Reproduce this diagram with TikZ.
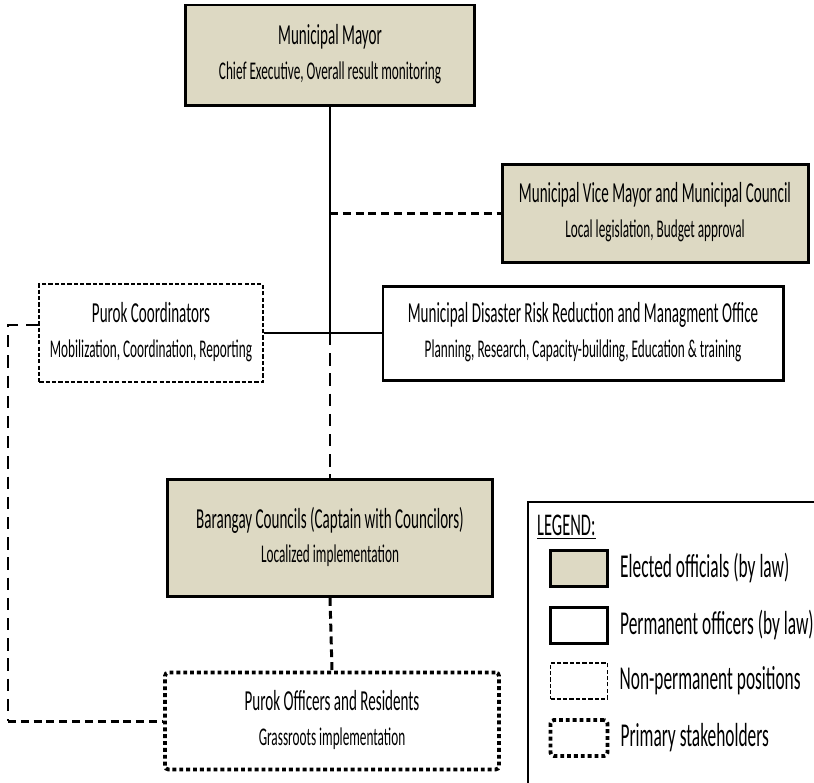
\documentclass[tikz,border=0pt]{standalone}
\usepackage{fontspec}
\setmainfont{Carlito}[FakeStretch=0.52]
\usepackage{tikz}
\usetikzlibrary{positioning, calc}

\definecolor{electedtan}{RGB}{221,217,195}
\newcommand{\ttl}{\fontsize{16.5}{19}\selectfont}
\newcommand{\sbt}{\fontsize{14.5}{17}\selectfont}
\newcommand{\lgd}{\fontsize{19}{22}\selectfont}

\tikzset{
	elected/.style={draw, line width=1.7pt, fill=electedtan, inner sep=0pt},
	permanent/.style={draw, line width=1.7pt, fill=white, inner sep=0pt},
	nonpermanent/.style={draw, line width=1.1pt, dash pattern=on 2.4pt off 1.2pt, fill=white, inner sep=0pt},
	primary/.style={draw, line width=2.2pt, dash pattern=on 2.2pt off 1.7pt, rounded corners=2pt, fill=white, inner sep=0pt},
	solidlink/.style={line width=1.2pt},
	dashlink/.style={line width=1.2pt, dash pattern=on 7pt off 4.5pt},
	heavylink/.style={line width=1.7pt, dash pattern=on 4.5pt off 2.8pt},
}

\begin{document}
\begin{tikzpicture}[x=0.02cm, y=-0.02cm]
			\useasboundingbox (0, 0) rectangle (814, 782);
			
			\node[elected, minimum width=289*0.02cm, minimum height=100*0.02cm] (mayor) at (330, 55) {\begin{tabular}{c}
					{\ttl Municipal Mayor} \\[6pt]
					{\sbt Chief Executive, Overall result monitoring}
			\end{tabular}};
			
			\node[elected, minimum width=306*0.02cm, minimum height=98*0.02cm] (vicemayor) at (655, 213) {\begin{tabular}{c}
					{\ttl Municipal Vice Mayor and Municipal Council} \\[6pt]
					{\sbt Local legislation, Budget approval}
			\end{tabular}};
			
			\node[nonpermanent, minimum width=222*0.02cm, minimum height=98*0.02cm] (purokcoord) at (151, 333) {\begin{tabular}{c}
					{\ttl Purok Coordinators} \\[6pt]
					{\sbt Mobilization, Coordination, Reporting}
			\end{tabular}};
			
			\node[permanent, minimum width=400*0.02cm, minimum height=94*0.02cm] (mdrrmo) at (583, 333) {\begin{tabular}{c}
					{\ttl Municipal Disaster Risk Reduction and Managment Office} \\[6pt]
					{\sbt Planning, Research, Capacity-building, Education \& training}
			\end{tabular}};
			
			\node[elected, minimum width=325*0.02cm, minimum height=117*0.02cm] (barangay) at (330, 538) {\begin{tabular}{c}
					{\ttl Barangay Councils (Captain with Councilors)} \\[6pt]
					{\sbt Localized implementation}
			\end{tabular}};
			
			\node[primary, minimum width=334*0.02cm, minimum height=97*0.02cm] (purokofficers) at (332, 721) {\begin{tabular}{c}
					{\ttl Purok Officers and Residents} \\[6pt]
					{\sbt Grassroots implementation}
			\end{tabular}};
			
			% links
			\coordinate (hub) at (mayor.south |- purokcoord.east);
			\coordinate (leftrail) at (8, 0);
			\draw[solidlink] (mayor.south) -- (hub);
			\draw[solidlink] (purokcoord.east) -- (mdrrmo.west);
			\draw[heavylink] (mayor.south |- vicemayor.west) -- (vicemayor.west);
			\draw[dashlink] (hub) -- (barangay.north);
			\draw[heavylink] (barangay.south) -- (purokofficers.north);
			\draw[dashlink] (purokcoord.176) -- (purokcoord.176 -| leftrail) -- (purokofficers.west -| leftrail);
			\draw[heavylink] (purokofficers.west -| leftrail) -- (purokofficers.west);
			
			% legend
			\draw[line width=0.9pt] (820, 502) -| (528, 790);
			\node[anchor=west] (legendtitle) at (531, 527) {\fontsize{18}{21}\selectfont\underline{LEGEND:}};
			\node[elected, minimum width=57*0.02cm, minimum height=36*0.02cm] (keyelected) at (579, 568) {};
			\node[permanent, minimum width=57*0.02cm, minimum height=36*0.02cm] (keypermanent) at (579, 625) {};
			\node[nonpermanent, minimum width=57*0.02cm, minimum height=36*0.02cm] (keynonperm) at (579, 681) {};
			\node[primary, minimum width=57*0.02cm, minimum height=36*0.02cm] (keyprimary) at (579, 738) {};
			\node[anchor=west, right=5*0.02cm of keyelected] (lblelected) {\lgd Elected officials (by law)};
			\node[anchor=west, right=5*0.02cm of keypermanent] (lblpermanent) {\lgd Permanent officers (by law)};
			\node[anchor=west, right=5*0.02cm of keynonperm] (lblnonperm) {\lgd Non-permanent positions};
			\node[anchor=west, right=5*0.02cm of keyprimary] (lblprimary) {\lgd Primary stakeholders};
		\end{tikzpicture}
\end{document}
